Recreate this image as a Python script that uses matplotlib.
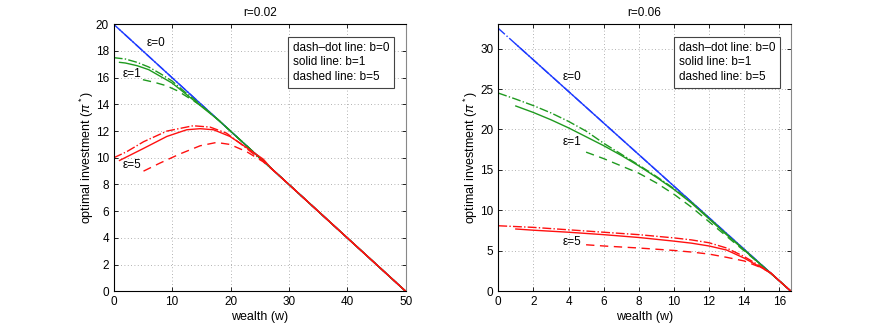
import numpy as np
import matplotlib
matplotlib.use("Agg")
import matplotlib.pyplot as plt

plt.rcParams["font.family"] = ["Liberation Sans", "DejaVu Sans"]
plt.rcParams["mathtext.fontset"] = "custom"
plt.rcParams["mathtext.rm"] = "Liberation Sans"
plt.rcParams["mathtext.it"] = "Liberation Sans:italic"

# --- r = 0.02 ---
w_blue_a = [0, 50]
pi_blue_a = [20, 0]

w_g0_a = [0, 2, 4, 6, 8, 10, 12, 14, 16, 18, 20, 25, 30, 40, 50]
pi_g0_a = [17.5, 17.4, 17.15, 16.8, 16.3, 15.75, 15.0, 14.3, 13.55, 12.8, 12.0, 10.0, 8.0, 4.0, 0]
w_g1_a = [1, 2, 4, 6, 8, 10, 12, 14, 16, 18, 20, 25, 30, 40, 50]
pi_g1_a = [17.15, 17.1, 16.9, 16.6, 16.1, 15.6, 14.9, 14.2, 13.5, 12.8, 12.0, 10.0, 8.0, 4.0, 0]
w_g5_a = [5, 7, 9, 11, 13, 15, 17, 19, 20, 25, 30, 40, 50]
pi_g5_a = [15.85, 15.65, 15.4, 15.0, 14.45, 13.9, 13.2, 12.4, 12.0, 10.0, 8.0, 4.0, 0]

w_r0_a = [0, 2.2, 5.1, 9.1, 13.6, 16.5, 19.3, 21.6, 23.9, 25.6, 28, 30, 40, 50]
pi_r0_a = [10.0, 10.45, 11.2, 12.0, 12.4, 12.3, 11.85, 11.1, 10.3, 9.76, 8.8, 8.0, 4.0, 0]
w_r1_a = [1, 5.1, 9.1, 12.5, 14.8, 17.1, 19.9, 22.8, 25.6, 27, 30, 40, 50]
pi_r1_a = [9.8, 10.7, 11.6, 12.1, 12.18, 12.1, 11.6, 10.75, 9.9, 9.2, 8.0, 4.0, 0]
w_r5_a = [5.1, 7.9, 11.4, 14.8, 17.6, 19.9, 22.8, 25.6, 28, 30, 40, 50]
pi_r5_a = [9.0, 9.6, 10.3, 10.9, 11.15, 11.0, 10.45, 9.7, 8.8, 8.0, 4.0, 0]

# --- r = 0.06 ---
w_max_b = 1 / 0.06
w_blue_b = [0, w_max_b]
pi_blue_b = [32.5, 0]

w_g0_b = [0, 1, 2, 3, 4, 5, 6, 7, 8, 9, 10, 11, 12, 13, 14, 15, 16, w_max_b]
pi_g0_b = [24.5, 23.75, 22.95, 22.05, 21.0, 19.8, 18.3, 16.95, 15.6, 14.2, 12.7, 11.0, 9.05, 7.05, 5.15, 3.2, 1.3, 0]
w_g1_b = [1, 2, 3, 4, 5, 6, 7, 8, 9, 10, 11, 12, 13, 14, 15, 16, w_max_b]
pi_g1_b = [22.9, 22.1, 21.2, 20.2, 19.1, 18.0, 16.8, 15.5, 14.1, 12.6, 10.9, 8.95, 7.0, 5.1, 3.2, 1.3, 0]
w_g5_b = [5, 6, 7, 8, 9, 10, 11, 12, 13, 14, 15, 16, w_max_b]
pi_g5_b = [17.2, 16.4, 15.5, 14.6, 13.4, 12.0, 10.4, 8.6, 6.8, 5.0, 3.2, 1.3, 0]

w_r0_b = [0, 2, 4, 6, 8, 10, 11, 12, 13, 14, 15, 15.5, 16, w_max_b]
pi_r0_b = [8.1, 7.9, 7.6, 7.3, 7.0, 6.6, 6.35, 6.0, 5.35, 4.3, 3.0, 2.3, 1.3, 0]
w_r1_b = [1, 2, 4, 6, 8, 10, 11, 12, 13, 14, 15, 15.5, 16, w_max_b]
pi_r1_b = [7.7, 7.55, 7.3, 7.0, 6.65, 6.2, 5.95, 5.6, 5.1, 4.1, 2.9, 2.3, 1.3, 0]
w_r5_b = [5, 6, 8, 10, 11, 12, 13, 14, 15, 15.5, 16, w_max_b]
pi_r5_b = [5.75, 5.6, 5.35, 5.05, 4.85, 4.6, 4.2, 3.75, 2.9, 2.25, 1.3, 0]

blue = "#1f3cff"
green = "#1f9a1f"
red = "#ff1010"
fs = 8.5
legend_txt = "dash\u2013dot line: b=0\nsolid line: b=1\ndashed line: b=5"

fig = plt.figure(figsize=(8.74, 3.27), dpi=100)
ax1 = fig.add_axes([0.1301, 0.1092, 0.3341, 0.8165])
ax2 = fig.add_axes([0.5701, 0.1092, 0.3349, 0.8165])


def draw(ax, blue_w, blue_p, w_start, curves):
    # eps=0: all b coincide; dash-dot from 0, solid from w=1
    ax.plot(blue_w, blue_p, color=blue, lw=1, ls="-.")
    p1 = np.interp(w_start, blue_w, blue_p)
    ax.plot([w_start, blue_w[1]], [p1, 0], color=blue, lw=1)
    for col, (w0, p0), (w1, p1), (w5, p5) in curves:
        ax.plot(w0, p0, color=col, lw=1, ls="-.")
        ax.plot(w1, p1, color=col, lw=1, ls="-")
        ax.plot(w5, p5, color=col, lw=1, ls=(0, (6, 4)))


# left panel
draw(ax1, w_blue_a, pi_blue_a, 1, [
    (green, (w_g0_a, pi_g0_a), (w_g1_a, pi_g1_a), (w_g5_a, pi_g5_a)),
    (red, (w_r0_a, pi_r0_a), (w_r1_a, pi_r1_a), (w_r5_a, pi_r5_a)),
])
ax1.set_xlim(0, 50)
ax1.set_ylim(0, 20)
ax1.set_xticks(np.arange(0, 51, 10))
ax1.set_yticks(np.arange(0, 21, 2))
ax1.set_title("r=0.02", fontsize=fs, pad=6)
ax1.text(5.6, 18.6, "\u03b5=0", fontsize=fs, va="center")
ax1.text(1.5, 16.3, "\u03b5=1", fontsize=fs, va="center")
ax1.text(1.6, 9.45, "\u03b5=5", fontsize=fs, va="center")

# right panel
draw(ax2, w_blue_b, pi_blue_b, 1, [
    (green, (w_g0_b, pi_g0_b), (w_g1_b, pi_g1_b), (w_g5_b, pi_g5_b)),
    (red, (w_r0_b, pi_r0_b), (w_r1_b, pi_r1_b), (w_r5_b, pi_r5_b)),
])
ax2.set_xlim(0, w_max_b)
ax2.set_ylim(0, 33)
ax2.set_xticks(np.arange(0, 17, 2))
ax2.set_yticks(np.arange(0, 31, 5))
ax2.set_title("r=0.06", fontsize=fs, pad=6)
ax2.text(3.65, 26.45, "\u03b5=0", fontsize=fs, va="center")
ax2.text(3.65, 18.4, "\u03b5=1", fontsize=fs, va="center")
ax2.text(3.65, 6.05, "\u03b5=5", fontsize=fs, va="center")

for ax, x0 in [(ax1, 0.613), (ax2, 0.616)]:
    ax.grid(True, ls=(0, (1, 3)), color="#999999", lw=0.6)
    ax.tick_params(direction="in", top=True, right=True, labelsize=fs, length=3, width=0.6)
    for s in ax.spines.values():
        s.set_linewidth(0.8)
    ax.spines["right"].set_color("#888888")
    ax.set_xlabel("wealth (w)", fontsize=fs + 0.5, labelpad=2)
    ax.set_ylabel(r"optimal investment ($\pi^*$)", fontsize=fs + 0.5, labelpad=0)
    ax.text(x0, 0.935, legend_txt, transform=ax.transAxes, fontsize=fs, va="top", ha="left",
            linespacing=1.3,
            bbox=dict(boxstyle="square,pad=0.4", facecolor="white", edgecolor="#444444", lw=0.8))

fig.savefig("out.png", dpi=100)
